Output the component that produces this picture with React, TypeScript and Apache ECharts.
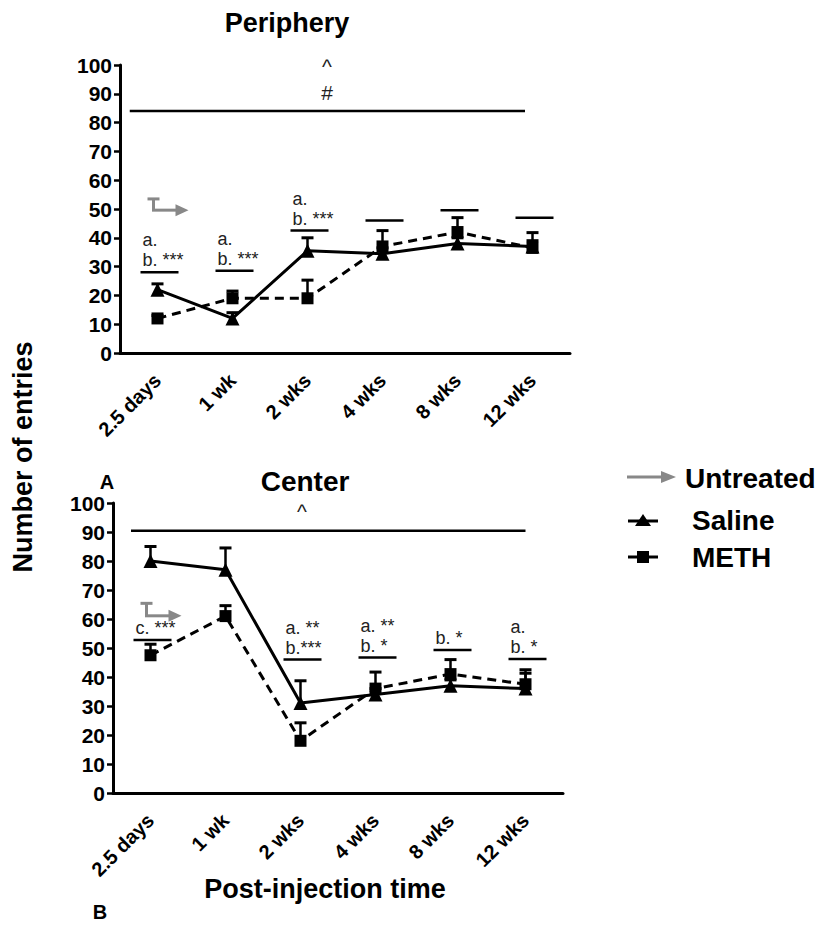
import React, { useEffect, useRef } from "react";
import * as echarts from "echarts";

const categories = ["2.5 days", "1 wk", "2 wks", "4 wks", "8 wks", "12 wks"];

// Periphery panel
const peripherySaline = [22, 12, 35.5, 34.5, 38, 37];
const peripherySalineErr = [2, 2, 4.5, 2, 2, 2];
const peripheryMeth = [12, 19, 19, 37, 42, 36.5];
const peripheryMethErr = [1, 2.5, 6.3, 5.5, 5, 5.3];
const peripheryUntreated = [[0, 49.6, 3.9]];

// Center panel
const centerSaline = [80, 77, 31, 34, 37, 36];
const centerSalineErr = [5, 7.5, 7.7, 2, 2, 5.3];
const centerMeth = [47.5, 61, 18, 36, 41, 37.5];
const centerMethErr = [3.8, 3.6, 6.2, 5.7, 5, 5];
const centerUntreated = [[0, 61.1, 4.3]];

// significance brackets (category index, value of bar, labels)
const peripheryAnnot = [
  { cat: 0, y: 28, lines: ["a.", "b. ***"] },
  { cat: 1, y: 28.6, lines: ["a.", "b. ***"] },
  { cat: 2, y: 42.5, lines: ["a.", "b. ***"] },
  { cat: 3, y: 46, lines: [] as string[] },
  { cat: 4, y: 49.6, lines: [] as string[] },
  { cat: 5, y: 47, lines: [] as string[] },
];
const centerAnnot = [
  { cat: 0, y: 52.8, lines: ["c. ***"] },
  { cat: 2, y: 46, lines: ["a. **", "b.***"] },
  { cat: 3, y: 46.7, lines: ["a. **", "b. *"] },
  { cat: 4, y: 49.3, lines: ["b. *"] },
  { cat: 5, y: 46.2, lines: ["a.", "b. *"] },
];
// overall bars: spanning categories (from, to), label position (at)
const peripheryOverall = { from: -0.37, to: 4.9, at: 2.26, y: 84, marks: ["^", "#"] };
const centerOverall = { from: -0.26, to: 5.0, at: 2.02, y: 90.4, marks: ["^"] };

const FONT = '"Liberation Sans", Arial, sans-serif';

function errorBars(gi: number, means: number[], errs: number[]) {
  return {
    type: "custom",
    xAxisIndex: gi,
    yAxisIndex: gi,
    data: means.map((m, i) => [i, m, errs[i]]),
    clip: false,
    silent: true,
    z: 2,
    renderItem: (_p: any, api: any) => {
      const i = api.value(0);
      const m = api.value(1);
      const e = api.value(2);
      const p0 = api.coord([i, m]);
      const p1 = api.coord([i, m + e]);
      return {
        type: "group",
        children: [
          { type: "line", shape: { x1: p0[0], y1: p0[1], x2: p1[0], y2: p1[1] }, style: { stroke: "#000", lineWidth: 2.5 } },
          { type: "line", shape: { x1: p1[0] - 6, y1: p1[1], x2: p1[0] + 6, y2: p1[1] }, style: { stroke: "#000", lineWidth: 3 } },
        ],
      };
    },
  };
}

function untreatedSeries(gi: number, d: number[][]) {
  return {
    type: "custom",
    xAxisIndex: gi,
    yAxisIndex: gi,
    data: d,
    clip: false,
    silent: true,
    z: 2,
    renderItem: (_p: any, api: any) => {
      const i = api.value(0);
      const m = api.value(1);
      const e = api.value(2);
      const p0 = api.coord([i, m]);
      const p1 = api.coord([i, m + e]);
      const xv = p0[0] - 4;
      const gray = "#888";
      return {
        type: "group",
        children: [
          { type: "line", shape: { x1: xv, y1: p0[1], x2: xv, y2: p1[1] }, style: { stroke: gray, lineWidth: 3 } },
          { type: "line", shape: { x1: xv - 6, y1: p1[1], x2: xv + 6, y2: p1[1] }, style: { stroke: gray, lineWidth: 3 } },
          { type: "line", shape: { x1: xv - 1.5, y1: p0[1], x2: p0[0] + 20, y2: p0[1] }, style: { stroke: gray, lineWidth: 3 } },
          {
            type: "polygon",
            shape: { points: [[p0[0] + 18, p0[1] - 6], [p0[0] + 31, p0[1]], [p0[0] + 18, p0[1] + 6]] },
            style: { fill: gray },
          },
        ],
      };
    },
  };
}

function annotSeries(gi: number, annots: { cat: number; y: number; lines: string[] }[]) {
  return {
    type: "custom",
    xAxisIndex: gi,
    yAxisIndex: gi,
    data: annots.map((a) => [a.cat, a.y]),
    clip: false,
    silent: true,
    z: 4,
    renderItem: (params: any, api: any) => {
      const a = annots[params.dataIndex];
      const p = api.coord([api.value(0), api.value(1)]);
      const children: any[] = [
        { type: "line", shape: { x1: p[0] - 17, y1: p[1], x2: p[0] + 21, y2: p[1] }, style: { stroke: "#000", lineWidth: 2.5 } },
      ];
      const n = a.lines.length;
      a.lines.forEach((t, k) => {
        children.push({
          type: "text",
          x: p[0] - 15,
          y: p[1] - 12 - (n - 1 - k) * 20,
          style: {
            text: t,
            fill: "#222",
            font: `18px ${FONT}`,
            align: "left",
            textAlign: "left",
            verticalAlign: "middle",
            textVerticalAlign: "middle",
          },
        });
      });
      return { type: "group", children };
    },
  };
}

function overallSeries(gi: number, o: { from: number; to: number; at: number; y: number; marks: string[] }) {
  return {
    type: "custom",
    xAxisIndex: gi,
    yAxisIndex: gi,
    data: [[0, o.y]],
    clip: false,
    silent: true,
    z: 4,
    renderItem: (_p: any, api: any) => {
      const base = api.coord([0, api.value(1)]);
      const band = api.size([1, 0])[0];
      const x1 = base[0] + o.from * band;
      const x2 = base[0] + o.to * band;
      const xm = base[0] + o.at * band;
      const children: any[] = [
        { type: "line", shape: { x1, y1: base[1], x2, y2: base[1] }, style: { stroke: "#000", lineWidth: 2.5 } },
      ];
      const n = o.marks.length;
      o.marks.forEach((t, k) => {
        children.push({
          type: "text",
          x: xm,
          y: base[1] - 19 - (n - 1 - k) * 26,
          style: {
            text: t,
            fill: "#222",
            font: `21px ${FONT}`,
            align: "center",
            textAlign: "center",
            verticalAlign: "middle",
            textVerticalAlign: "middle",
          },
        });
      });
      return { type: "group", children };
    },
  };
}

function lineSeries(gi: number, name: string, data: number[], dashed: boolean) {
  return {
    type: "line",
    name,
    xAxisIndex: gi,
    yAxisIndex: gi,
    data,
    symbol: dashed ? "rect" : "triangle",
    symbolSize: dashed ? 12 : 14,
    lineStyle: { color: "#000", width: 3, type: dashed ? [9, 6] : "solid" },
    itemStyle: { color: "#000" },
    z: 3,
    silent: true,
  };
}

function txt(text: string, x: number, y: number, size: number, opts: any = {}) {
  return {
    type: "text",
    x,
    y,
    rotation: opts.rotation || 0,
    style: {
      text,
      fill: "#000",
      font: `bold ${size}px ${FONT}`,
      align: opts.align || "center",
      textAlign: opts.align || "center",
      verticalAlign: "middle",
      textVerticalAlign: "middle",
    },
  };
}

export default function App() {
  const ref = useRef<HTMLDivElement>(null);
  useEffect(() => {
    document.body.style.margin = "0";
    const chart = echarts.init(ref.current!, undefined, { renderer: "svg" });
    const xAxisBase = (gi: number) => ({
      type: "category",
      gridIndex: gi,
      data: categories,
      boundaryGap: true,
      axisLine: { lineStyle: { color: "#000", width: 3 } },
      axisTick: { alignWithLabel: true, length: 6, lineStyle: { color: "#000", width: 3 } },
      axisLabel: { rotate: 45, margin: 24, color: "#000", fontWeight: "bold", fontSize: 20, fontFamily: FONT, interval: 0 },
      splitLine: { show: false },
    });
    const yAxisBase = (gi: number) => ({
      type: "value",
      gridIndex: gi,
      min: 0,
      max: 100,
      interval: 10,
      axisLine: { show: true, lineStyle: { color: "#000", width: 3 } },
      axisTick: { show: true, length: 6, lineStyle: { color: "#000", width: 2.5 } },
      axisLabel: { margin: 8, color: "#000", fontWeight: "bold", fontSize: 21, fontFamily: FONT },
      splitLine: { show: false },
    });
    const gray = "#888";
    chart.setOption({
      animation: false,
      backgroundColor: "#fff",
      grid: [
        { left: 120, top: 65, width: 450, height: 288 },
        { left: 113, top: 503, width: 450, height: 290 },
      ],
      xAxis: [xAxisBase(0), xAxisBase(1)],
      yAxis: [yAxisBase(0), yAxisBase(1)],
      series: [
        errorBars(0, peripherySaline, peripherySalineErr),
        errorBars(0, peripheryMeth, peripheryMethErr),
        lineSeries(0, "Saline", peripherySaline, false),
        lineSeries(0, "METH", peripheryMeth, true),
        untreatedSeries(0, peripheryUntreated),
        annotSeries(0, peripheryAnnot),
        overallSeries(0, peripheryOverall),
        errorBars(1, centerSaline, centerSalineErr),
        errorBars(1, centerMeth, centerMethErr),
        lineSeries(1, "Saline", centerSaline, false),
        lineSeries(1, "METH", centerMeth, true),
        untreatedSeries(1, centerUntreated),
        annotSeries(1, centerAnnot),
        overallSeries(1, centerOverall),
      ],
      graphic: [
        txt("Periphery", 287, 23, 27),
        txt("Center", 305, 481, 28),
        txt("A", 107, 482, 20),
        txt("B", 100, 912, 20),
        txt("Number of entries", 23, 457, 27, { rotation: Math.PI / 2 }),
        txt("Post-injection time", 325, 889, 27),
        // legend
        { type: "line", shape: { x1: 627, y1: 477, x2: 664, y2: 477 }, style: { stroke: gray, lineWidth: 3 } },
        { type: "polygon", shape: { points: [[661, 471], [676, 477], [661, 483]] }, style: { fill: gray } },
        txt("Untreated", 685, 478, 28, { align: "left" }),
        { type: "line", shape: { x1: 628, y1: 521, x2: 658, y2: 521 }, style: { stroke: "#000", lineWidth: 3 } },
        { type: "polygon", shape: { points: [[643, 514], [651, 526], [635, 526]] }, style: { fill: "#000" } },
        txt("Saline", 692, 520, 28, { align: "left" }),
        { type: "line", shape: { x1: 628, y1: 557, x2: 658, y2: 557 }, style: { stroke: "#000", lineWidth: 3 } },
        { type: "rect", shape: { x: 637, y: 551, width: 12, height: 12 }, style: { fill: "#000" } },
        txt("METH", 692, 557, 28, { align: "left" }),
      ],
    });
    return () => chart.dispose();
  }, []);
  return <div ref={ref} style={{ width: 823, height: 928 }} />;
}
